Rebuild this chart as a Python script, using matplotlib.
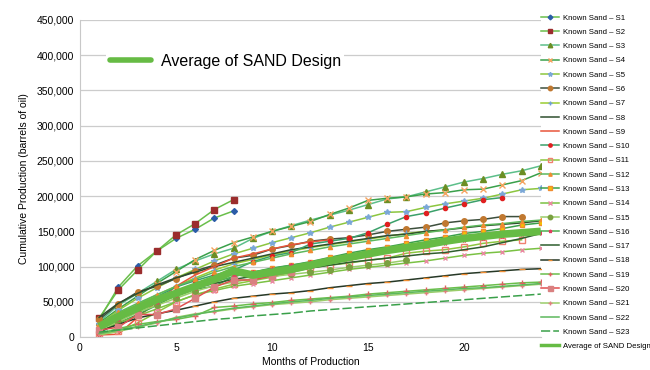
import numpy as np
import matplotlib
matplotlib.use("Agg")
from matplotlib import pyplot as plt
from matplotlib.ticker import FuncFormatter

# cumulative production, thousands of barrels, month 1 onward
s1 = [25, 71, 101, 122, 140, 153, 169, 179]
s2 = [27, 67, 95, 122, 145, 161, 181, 195]
s3 = [22, 45, 62, 79, 96, 108, 118, 126, 140, 150, 158, 166, 173, 180, 188, 196, 199, 206, 213, 220, 225, 231, 236, 243]
s4 = [20, 40, 58, 76, 93, 110, 123, 134, 142, 150, 157, 164, 174, 183, 194, 197, 199, 203, 205, 209, 210, 216, 222, 233]
s5 = [18, 38, 55, 70, 84, 96, 108, 118, 126, 134, 141, 148, 156, 163, 170, 177, 178, 184, 189, 193, 197, 203, 209, 211]
s6 = [25, 47, 64, 72, 83, 94, 102, 112, 116, 125, 130, 136, 139, 141, 145, 150, 153, 156, 162, 165, 167, 171, 171]
s7 = [15, 32, 46, 60, 72, 84, 95, 104, 110, 117, 122, 127, 131, 135, 139, 143, 147, 150, 152]
s8 = [28, 48, 62, 74, 84, 92, 100, 106, 112, 118, 124, 128, 132, 136, 140, 144, 146, 150, 152, 155, 158, 160, 162, 165]
s9 = [3, 4, 28, 50, 72, 88, 100, 112, 118, 125, 131, 135, 138]
s10 = [5, 22, 43, 57, 71, 80, 88, 95, 107, 115, 120, 132, 136, 140, 148, 160, 171, 176, 183, 189, 195, 198]
s11 = [4, 8, 20, 35, 50, 60, 68, 75, 80, 85, 92, 98, 102, 105, 109, 112, 119, 122, 124, 128, 133, 136, 138]
s12 = [18, 35, 48, 60, 72, 82, 92, 100, 106, 112, 118, 123, 128, 132, 136, 140, 144, 148, 152, 156, 159, 161, 164, 166]
s13 = [7, 20, 32, 45, 60, 68, 72, 86, 92, 98, 102, 107, 113, 119, 124, 128, 133, 138, 142, 147, 150, 154, 159, 162]
s14 = [8, 20, 30, 40, 50, 60, 66, 72, 76, 80, 84, 88, 92, 96, 99, 102, 105, 108, 112, 116, 119, 121, 124, 126]
s15 = [10, 22, 35, 45, 55, 65, 73, 78, 83, 86, 89, 92, 95, 99, 102, 105, 109]
s16 = [10, 25, 38, 50, 60, 70, 78, 86, 92, 97, 102, 106, 110, 114, 118, 122, 126, 130, 134, 138, 141, 144, 146, 148]
s17 = [12, 30, 45, 55, 63, 70, 76, 82, 86, 90, 94, 98, 102, 106, 109, 112, 115, 118, 120, 124, 128, 134, 140, 147]
s18 = [8, 18, 27, 33, 38, 44, 50, 55, 58, 61, 63, 66, 70, 73, 76, 78, 81, 84, 87, 90, 92, 94, 96, 97]
s19 = [5, 12, 18, 22, 25, 30, 42, 44, 47, 49, 52, 54, 56, 58, 61, 63, 65, 67, 69, 71, 73, 75, 77, 78]
s20 = [10, 14, 32, 32, 40, 55, 71, 81, 81, 87, 93]
s21 = [3, 8, 14, 20, 28, 33, 36, 40, 43, 46, 48, 50, 53, 55, 57, 59, 61, 63, 65, 67, 69, 71, 73, 75]
s22 = [5, 10, 15, 21, 27, 32, 37, 41, 44, 47, 50, 52, 55, 57, 59, 61, 63, 65, 67, 69, 70, 72, 74, 76]
s23 = [7, 10, 13, 16, 19, 22, 25, 27, 30, 32, 34, 37, 39, 41, 43, 45, 47, 49, 51, 53, 55, 57, 59, 61]
average = [15, 29, 41, 53, 62, 72, 82, 94, 88, 92, 96, 102, 108, 113, 118, 123, 127, 131, 136, 140, 143, 146, 148, 150]

sands = [s1, s2, s3, s4, s5, s6, s7, s8, s9, s10, s11, s12,
         s13, s14, s15, s16, s17, s18, s19, s20, s21, s22, s23]

# (line colour, marker, marker face, marker edge, marker size, linestyle)
STYLES = [
    ('#6abf4b', 'D', '#2a5ca8', '#2a5ca8', 3, '-'),
    ('#6abf4b', 's', '#9b2d2d', '#9b2d2d', 4, '-'),
    ('#5cbf8a', '^', '#6b8e23', '#6b8e23', 4, '-'),
    ('#3aa04a', 'x', '#f4a460', '#f4a460', 4, '-'),
    ('#8cc63f', '*', '#7ba7d7', '#7ba7d7', 4, '-'),
    ('#3d4f3d', 'o', '#c07830', '#c07830', 4, '-'),
    ('#9acd32', '+', '#6f9fd8', '#6f9fd8', 4, '-'),
    ('#2f4f2f', '', 'none', 'none', 0, '-'),
    ('#e8553b', '', 'none', 'none', 0, '-'),
    ('#3aa06a', 'o', '#e02020', '#e02020', 3, '-'),
    ('#8cc63f', 's', 'none', '#f08070', 4, '-'),
    ('#5cb85c', '^', '#f08c30', '#f08c30', 3, '-'),
    ('#3aa04a', 's', '#f5c400', '#f08c30', 3.5, '-'),
    ('#7ac143', 'x', '#e88aa0', '#e88aa0', 3.5, '-'),
    ('#9acd6a', 'o', '#7aa040', '#7aa040', 4, '-'),
    ('#4caf50', '*', '#e04060', '#e04060', 3, '-'),
    ('#2e5e2e', '', 'none', 'none', 0, '-'),
    ('#263826', '_', '#f08c30', '#f08c30', 4, '-'),
    ('#6abf4b', '+', '#e06060', '#e06060', 4, '-'),
    ('#e05050', 's', '#d98080', '#d98080', 4.5, '-'),
    ('#9acd6a', '+', '#e08080', '#e08080', 3, '-'),
    ('#5cb85c', '', 'none', 'none', 0, '-'),
    ('#3aa04a', '', 'none', 'none', 0, (0, (6, 2))),
]

plt.rcParams['font.family'] = ['Liberation Sans', 'DejaVu Sans']

fig = plt.figure(figsize=(6.5, 3.7), dpi=100)
ax = fig.add_axes([0.123, 0.089, 0.709, 0.857])

handles = []
for i, (vals, st) in enumerate(zip(sands, STYLES)):
    months = np.arange(1, len(vals) + 1)
    color, mk, mfc, mec, ms, ls = st
    h, = ax.plot(months, np.array(vals) * 1000, color=color, lw=1.1, ls=ls,
                 marker=mk if mk else None, mfc=mfc, mec=mec, ms=ms, mew=1,
                 label=f'Known Sand \u2013 S{i + 1}')
    handles.append(h)

avg_months = np.arange(1, len(average) + 1)
h_avg, = ax.plot(avg_months, np.array(average) * 1000, color='#66bb44', lw=5.5,
                 solid_capstyle='butt', label='Average of SAND Design', zorder=3)

ax.set_xlim(0, 24)
ax.set_ylim(0, 450000)
ax.set_xticks([0, 5, 10, 15, 20])
ax.set_yticks(np.arange(0, 450001, 50000))
ax.yaxis.set_major_formatter(FuncFormatter(lambda v, p: f'{int(v):,}'))
ax.tick_params(length=0, labelsize=7.5, pad=4)
ax.grid(axis='y', color='#cccccc', lw=0.9)
ax.set_axisbelow(True)
for side in ['top', 'right']:
    ax.spines[side].set_visible(False)
for side in ['left', 'bottom']:
    ax.spines[side].set_color('#c8c8c8')

ax.set_xlabel('Months of Production', fontsize=7.5, labelpad=3)
ax.set_ylabel('Cumulative Production (barrels of oil)', fontsize=7.5, labelpad=6)

# inset legend for the average line
leg_in = ax.legend([plt.Line2D([], [], color='#66bb44', lw=4, solid_capstyle='round')],
                   ['Average of SAND Design'], loc='center left',
                   bbox_to_anchor=(0.04, 0.87), frameon=True, fontsize=11.5,
                   handlelength=2.6, borderpad=0.2, handletextpad=0.6)
leg_in.get_frame().set_edgecolor('none')
leg_in.get_frame().set_facecolor('white')
leg_in.get_frame().set_alpha(1)

# right-hand legend with every series
leg_handles = list(handles)
leg_handles.append(plt.Line2D([], [], color='#66bb44', lw=2.5))
leg_labels = [h.get_label() for h in handles] + ['Average of SAND Design']
leg = fig.legend(leg_handles, leg_labels, loc='upper left',
                 bbox_to_anchor=(0.832, 0.962), frameon=False, fontsize=5.6,
                 handlelength=2.3, handletextpad=0.5, labelspacing=0.88,
                 markerscale=0.8, borderaxespad=0, borderpad=0)

fig.savefig('out.png', dpi=100)
